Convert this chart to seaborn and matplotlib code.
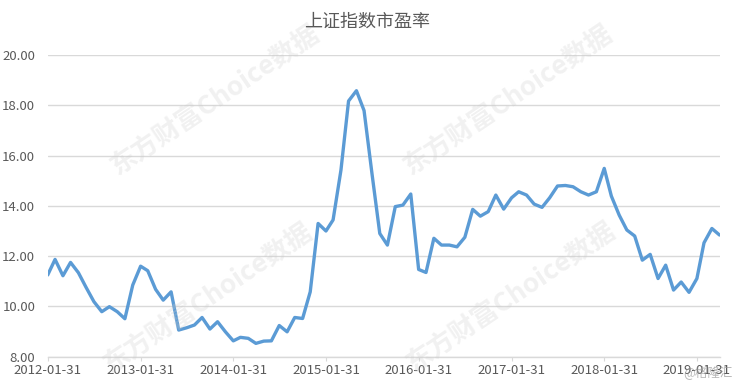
import numpy as np
import pandas as pd
import matplotlib
matplotlib.use("Agg")
import matplotlib.pyplot as plt
import seaborn as sns

# ---- data ----
title = "上证指数市盈率"
start_month = "2012-01-31"
pe_values = [
    11.25, 11.87, 11.22, 11.75, 11.34, 10.76, 10.19, 9.79, 9.99, 9.79, 9.51, 10.85,
    11.60, 11.42, 10.68, 10.25, 10.58, 9.06, 9.15, 9.26, 9.56, 9.10, 9.39, 8.99,
    8.63, 8.77, 8.73, 8.53, 8.62, 8.63, 9.24, 8.99, 9.56, 9.52, 10.58, 13.30,
    13.00, 13.44, 15.42, 18.17, 18.58, 17.79, 15.30, 12.90, 12.44, 13.97, 14.03, 14.47,
    11.47, 11.35, 12.71, 12.44, 12.44, 12.37, 12.75, 13.86, 13.59, 13.77, 14.43, 13.87,
    14.32, 14.56, 14.43, 14.07, 13.94, 14.32, 14.79, 14.81, 14.76, 14.56, 14.43, 14.56,
    15.49, 14.39, 13.63, 13.04, 12.80, 11.84, 12.07, 11.11, 11.64, 10.65, 10.97, 10.56,
    11.11, 12.53, 13.10, 12.84,
]
tick_labels = ["2012-01-31", "2013-01-31", "2014-01-31", "2015-01-31",
               "2016-01-31", "2017-01-31", "2018-01-31", "2019-01-31"]
y_ticks = [8, 10, 12, 14, 16, 18, 20]
watermark = "东方财富Choice数据"
source = "@格隆汇"

dates = pd.date_range(start_month, periods=len(pe_values), freq="ME")
df = pd.DataFrame({"date": dates, "pe": pe_values})

sns.set_theme(style="white")
plt.rcParams["font.family"] = ["Noto Sans CJK SC", "DejaVu Sans"]

fig = plt.figure(figsize=(7.32, 3.86), dpi=100)
ax = fig.add_axes([47.7 / 732, 29.3 / 386, (719.5 - 47.7) / 732, (356.7 - 55) / 386])

sns.lineplot(data=df, x="date", y="pe", ax=ax, color="#5b9bd5", linewidth=2.4)

ax.set_xlim(dates[0], dates[-1])
ax.set_ylim(8, 20)
ax.set_yticks(y_ticks)
ax.set_yticklabels([f"{v:.2f}" for v in y_ticks])
tick_dates = pd.to_datetime(tick_labels)
ax.set_xticks(tick_dates)
ax.set_xticklabels(tick_labels)
ax.set_xlabel("")
ax.set_ylabel("")

ax.grid(axis="y", color="#d9d9d9", linewidth=1)
ax.set_axisbelow(True)
for s in ["top", "right", "left"]:
    ax.spines[s].set_visible(False)
ax.spines["bottom"].set_color("#d9d9d9")
ax.spines["bottom"].set_linewidth(1)
ax.tick_params(axis="x", colors="#595959", labelsize=9.5, length=3, width=0.8,
               color="#d9d9d9", pad=2, direction="out", bottom=True)
ax.tick_params(axis="y", colors="#595959", labelsize=9.5, length=0, pad=9)
for lbl in ax.get_xticklabels() + ax.get_yticklabels():
    lbl.set_color("#595959")

fig.text(367 / 732, 1 - 22 / 386, title, ha="center", va="center",
         fontsize=13, color="#595959")

# watermarks
for (cx, cy) in [(215, 100), (208, 298), (508, 100), (511, 297)]:
    fig.text(cx / 732, 1 - cy / 386, watermark, ha="center", va="center",
             rotation=34, fontsize=19, fontweight="bold", color="#cccccc",
             alpha=0.28, zorder=0)

fig.text(708 / 732, 1 - 372 / 386, source, ha="center", va="center",
         fontsize=9, color="#999999", alpha=0.7)

fig.savefig("out.png", dpi=100, facecolor="white")
